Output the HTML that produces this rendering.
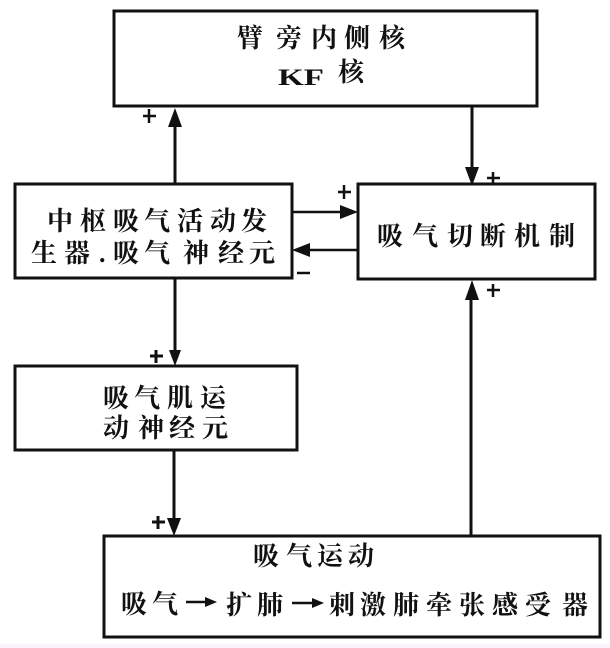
<!DOCTYPE html>
<html lang="zh">
<head>
<meta charset="utf-8">
<style>
html,body{margin:0;padding:0;background:#fff;}
svg{display:block;}
text{font-family:"Liberation Serif","Noto Serif CJK SC",serif;fill:#111;font-weight:700;font-size:26px;}
.b{fill:#fff;stroke:#111;stroke-width:3;}
.l{stroke:#111;stroke-width:3;fill:none;}
.t{stroke:#111;stroke-width:2.5;fill:none;}
.a{fill:#111;stroke:none;}
</style>
</head>
<body>
<svg width="610" height="648" viewBox="0 0 610 648" xmlns="http://www.w3.org/2000/svg">
<rect x="0" y="0" width="610" height="648" fill="#fff"/>
<rect x="0" y="644" width="610" height="4" fill="#fbf4fb"/>
<rect class="b" x="114" y="11" width="423" height="95"/>
<rect class="b" x="15" y="184" width="277" height="94"/>
<rect class="b" x="358" y="184" width="237" height="95"/>
<rect class="b" x="15" y="366" width="282" height="84"/>
<rect class="b" x="104" y="536" width="496" height="101"/>

<text y="47" x="237 276 311 344 379">臂旁内侧核</text>
<text y="85" x="278" style="font-size:23px" textLength="46" lengthAdjust="spacingAndGlyphs">KF</text>
<text y="81" x="338">核</text>
<text y="230" x="47 80 113 144 177 210 241">中枢吸气活动发</text>
<text y="262" x="31 64 99 113 144 183 218 249">生器.吸气神经元</text>
<text y="245" x="377 412 447 480 514 549">吸气切断机制</text>
<text y="407" x="103 134 167 200">吸气肌运</text>
<text y="437" x="103 138 169 202">动神经元</text>
<text y="565" x="253 286 317 348">吸气运动</text>
<text y="613" x="121 152">吸气</text>
<text y="614" x="226 257">扩肺</text>
<text y="614" x="329 360 393 426 459 492 525 562">刺激肺牵张感受器</text>

<line class="t" x1="186" y1="602" x2="208" y2="602"/>
<polygon class="a" points="217,602 205,597 205,607"/>
<line class="t" x1="292" y1="603" x2="314" y2="603"/>
<polygon class="a" points="324,603 312,598 312,608"/>

<line class="l" x1="175" y1="184" x2="175" y2="122"/>
<polygon class="a" points="175,108 168,127 182,127"/>
<line class="l" x1="472" y1="106" x2="472" y2="170"/>
<polygon class="a" points="472,186 465,167 479,167"/>
<line class="t" x1="292" y1="212" x2="345" y2="212"/>
<polygon class="a" points="358,212 340,205 340,219"/>
<line class="t" x1="358" y1="250" x2="305" y2="250"/>
<polygon class="a" points="292,250 310,243 310,257"/>
<line class="l" x1="175" y1="278" x2="175" y2="352"/>
<polygon class="a" points="175,366 169,350 181,350"/>
<line class="l" x1="174" y1="450" x2="174" y2="522"/>
<polygon class="a" points="174,536 167,518 181,518"/>
<line class="l" x1="471" y1="536" x2="471" y2="295"/>
<polygon class="a" points="472,280 465,300 479,300"/>

<path class="t" d="M143 116h13M149 109v14"/>
<path class="t" d="M487 178h13M493 172v13"/>
<path class="t" d="M338 192h13M344 185v14"/>
<path class="t" d="M487 290h13M493 284v13"/>
<path class="l" d="M150 356h13M156 350v13"/>
<path class="l" d="M152 522h13M158 516v13"/>
<path class="t" d="M297 273h13"/>
</svg>
</body>
</html>
